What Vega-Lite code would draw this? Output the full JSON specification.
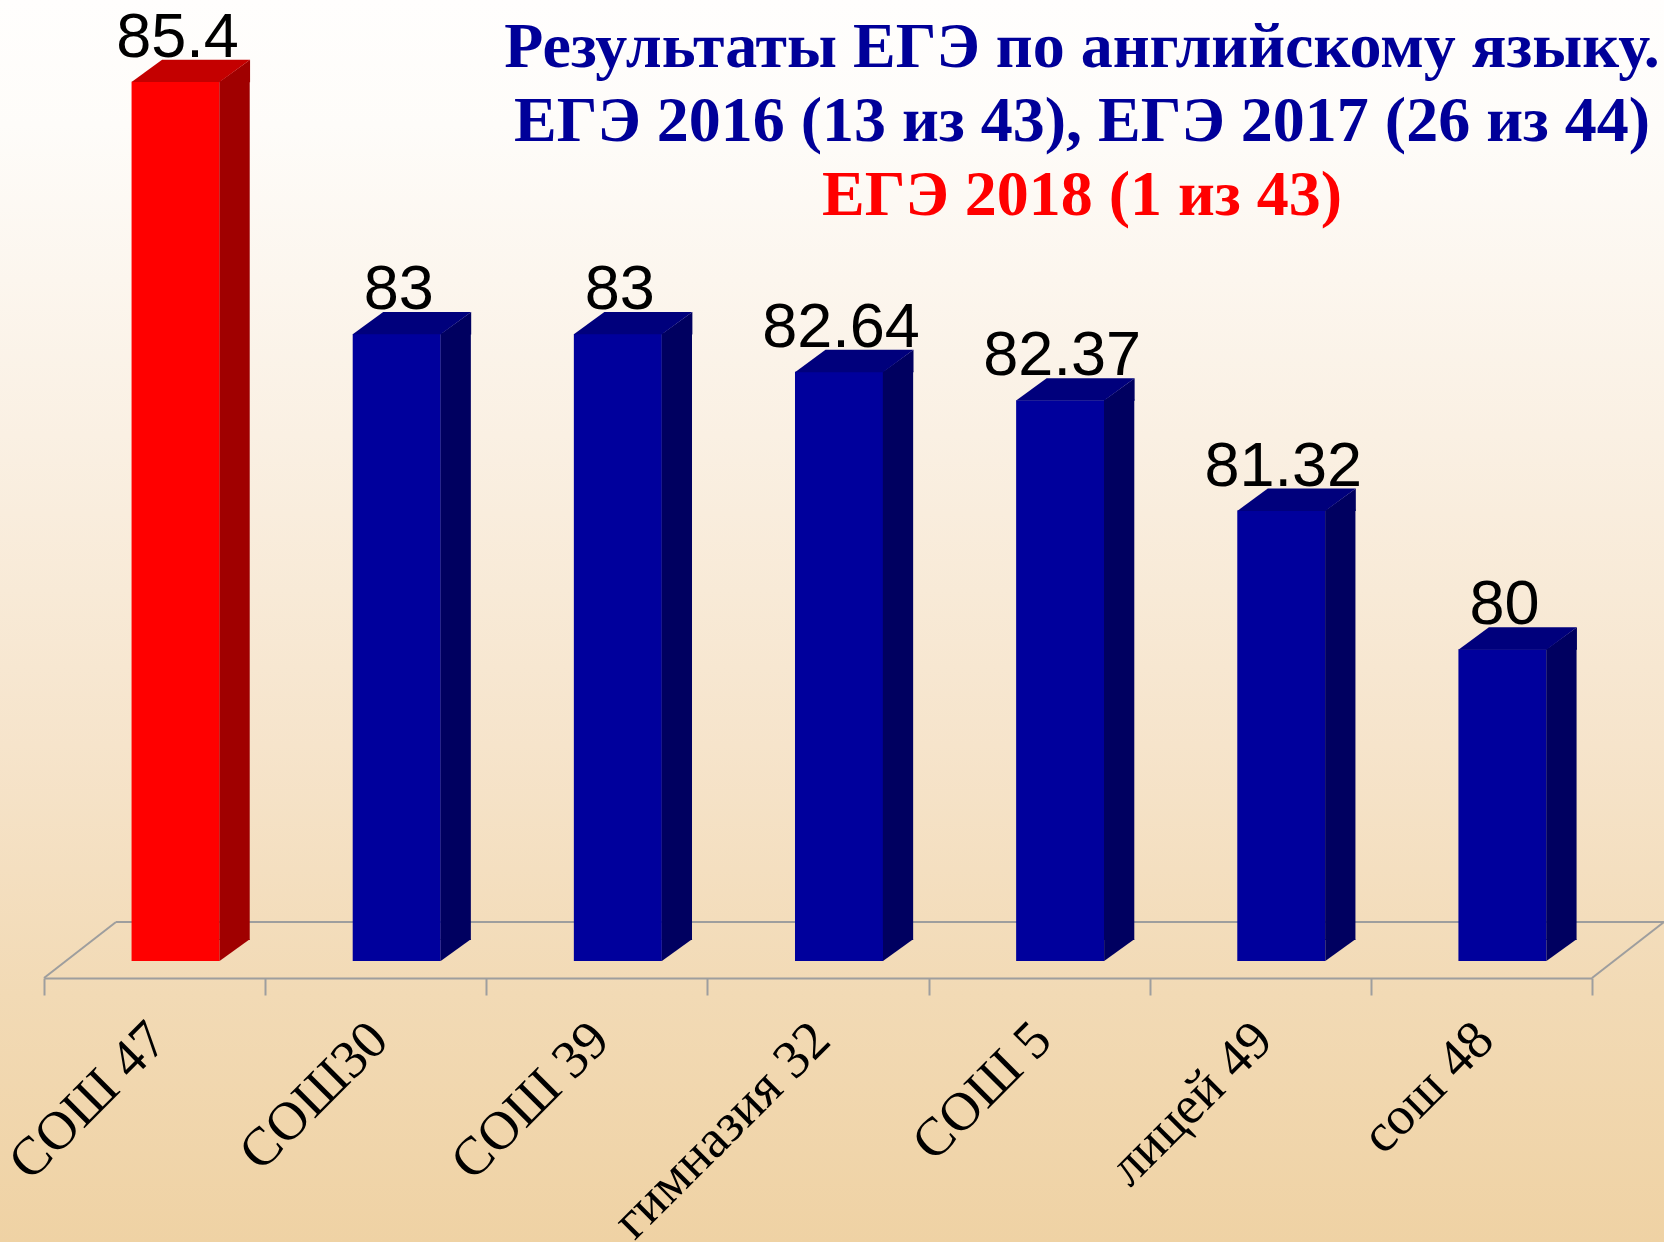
{
  "$schema": "https://vega.github.io/schema/vega-lite/v6.json",
  "width": 1664,
  "height": 1242,
  "padding": 0,
  "autosize": {"type": "none"},
  "background": "#efd3a5",
  "view": {
    "stroke": null,
    "fill": {
      "gradient": "linear",
      "x1": 0, "y1": 0, "x2": 0, "y2": 1,
      "stops": [
        {"offset": 0, "color": "#fffefd"},
        {"offset": 0.1, "color": "#fefcf9"},
        {"offset": 0.35, "color": "#faf0e3"},
        {"offset": 0.6, "color": "#f6e4cb"},
        {"offset": 0.8, "color": "#f2dab5"},
        {"offset": 1, "color": "#efd2a4"}
      ]
    }
  },
  "title": {
    "text": ["Результаты ЕГЭ по английскому языку.", "ЕГЭ 2016 (13 из 43), ЕГЭ 2017 (26 из 44)"],
    "subtitle": "ЕГЭ 2018 (1 из 43)",
    "orient": "top",
    "anchor": "middle",
    "frame": "group",
    "font": "Liberation Serif",
    "fontSize": 64,
    "fontWeight": "bold",
    "color": "#000099",
    "lineHeight": 74,
    "subtitleFont": "Liberation Serif",
    "subtitleFontSize": 64,
    "subtitleFontWeight": "bold",
    "subtitleColor": "#ff0000",
    "subtitlePadding": 10,
    "dx": 250,
    "offset": -228
  },
  "data": {
    "values": [
      {"school": "СОШ 47", "score": 85.4},
      {"school": "СОШ30", "score": 83},
      {"school": "СОШ 39", "score": 83},
      {"school": "гимназия 32", "score": 82.64},
      {"school": "СОШ 5", "score": 82.37},
      {"school": "лицей 49", "score": 81.32},
      {"school": "сош 48", "score": 80}
    ]
  },
  "resolve": {"scale": {"x": "independent"}, "axis": {"x": "independent"}},
  "layer": [
    {
      "data": {"values": [{}]},
      "layer": [
        {
          "mark": {"type": "rule", "color": "#9e9e9e", "strokeWidth": 2},
          "encoding": {
            "x": {"datum": 0.3256, "type": "quantitative", "scale": {"domain": [0, 7], "range": [44, 1592]}, "axis": null},
            "x2": {"datum": 7.3256},
            "y": {"datum": 77.407, "type": "quantitative", "scale": {"domain": [76.874, 86.177], "range": [978, 0], "zero": false, "nice": false}, "axis": null}
          }
        },
        {
          "mark": {"type": "rule", "color": "#9e9e9e", "strokeWidth": 2},
          "encoding": {
            "x": {"datum": 0, "type": "quantitative", "scale": {"domain": [0, 7], "range": [44, 1592]}, "axis": null},
            "x2": {"datum": 0.3256},
            "y": {"datum": 76.874, "type": "quantitative", "axis": null},
            "y2": {"datum": 77.407}
          }
        },
        {
          "mark": {"type": "rule", "color": "#9e9e9e", "strokeWidth": 2},
          "encoding": {
            "x": {"datum": 7, "type": "quantitative", "scale": {"domain": [0, 7], "range": [44, 1592]}, "axis": null},
            "x2": {"datum": 7.3256},
            "y": {"datum": 76.874, "type": "quantitative", "axis": null},
            "y2": {"datum": 77.407}
          }
        }
      ]
    },
    {
      "encoding": {
        "x": {
          "field": "school",
          "type": "nominal",
          "sort": null,
          "scale": {"range": [44, 1592], "paddingInner": 0, "paddingOuter": 0},
          "axis": {
            "title": null,
            "offset": -264,
            "domainColor": "#9e9e9e",
            "domainWidth": 2,
            "tickColor": "#9e9e9e",
            "tickWidth": 2,
            "tickSize": 17,
            "tickBand": "extent",
            "grid": false,
            "labelAngle": -45,
            "labelFont": "Liberation Serif",
            "labelFontSize": 54,
            "labelColor": "#000000",
            "labelOffset": -16,
            "labelPadding": 17,
            "labelLimit": 0,
            "labelOverlap": false,
            "labelBound": false,
            "labelFlush": false
          }
        }
      },
      "layer": [
        {
          "mark": {"type": "bar", "width": {"band": 0.398}, "xOffset": 21},
          "encoding": {
            "y": {"field": "score", "type": "quantitative", "axis": null},
            "y2": {"datum": 77.036},
            "color": {"condition": {"test": "datum.school === 'СОШ 47'", "value": "#ff0000"}, "value": "#00009c"}
          }
        },
        {
          "mark": {"type": "bar", "width": {"band": 0.137}, "xOffset": 80, "yOffset": -1, "y2Offset": -21},
          "encoding": {
            "y": {"field": "score", "type": "quantitative", "axis": null},
            "y2": {"datum": 77.036},
            "color": {"condition": {"test": "datum.school === 'СОШ 47'", "value": "#a00000"}, "value": "#000060"}
          }
        },
        {
          "mark": {"type": "point", "shape": "M 65 -22 L 65 0 L 95.5 -22 Z", "size": 4, "filled": true, "opacity": 1, "strokeWidth": 0},
          "encoding": {
            "y": {"datum": 77.036, "type": "quantitative", "axis": null},
            "color": {"condition": {"test": "datum.school === 'СОШ 47'", "value": "#a00000"}, "value": "#000060"}
          }
        },
        {
          "mark": {"type": "point", "shape": "M 65 0 L 95.5 -22 L 95.5 0.5 L 65 0.5 Z", "size": 4, "filled": true, "opacity": 1, "strokeWidth": 0},
          "encoding": {
            "y": {"field": "score", "type": "quantitative", "axis": null},
            "color": {"condition": {"test": "datum.school === 'СОШ 47'", "value": "#a00000"}, "value": "#000060"}
          }
        },
        {
          "mark": {"type": "point", "shape": "M -23 0.3 L 65 0.3 L 95.5 -22 L 7.5 -22 Z", "size": 4, "filled": true, "opacity": 1, "strokeWidth": 0},
          "encoding": {
            "y": {"field": "score", "type": "quantitative", "axis": null},
            "color": {"condition": {"test": "datum.school === 'СОШ 47'", "value": "#c40000"}, "value": "#00007c"}
          }
        },
        {
          "mark": {"type": "text", "font": "Liberation Sans", "fontSize": 63, "color": "#000000", "align": "center", "baseline": "alphabetic", "dx": 23, "dy": -25},
          "encoding": {
            "y": {"field": "score", "type": "quantitative", "axis": null},
            "text": {"field": "score", "type": "nominal"}
          }
        }
      ]
    }
  ]
}
